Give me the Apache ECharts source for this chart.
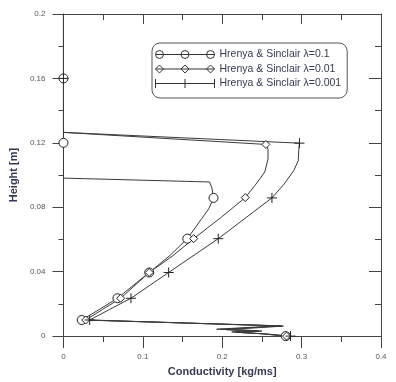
<!DOCTYPE html>
<html>
<head>
<meta charset="utf-8">
<script src="https://cdn.jsdelivr.net/npm/echarts@6/dist/echarts.min.js"></script>
<style>
  html, body { margin: 0; padding: 0; background: #fff; }
  #chart { width: 396px; height: 382px; }
</style>
</head>
<body>
<div id="chart"></div>
<script>
// --- tick values ---
const X_TICKS = [0, 0.1, 0.2, 0.3, 0.4];
const Y_TICKS = [0, 0.04, 0.08, 0.12, 0.16, 0.2];

// --- series names ---
const NAMES = [
  'Hrenya & Sinclair λ=0.1',
  'Hrenya & Sinclair λ=0.01',
  'Hrenya & Sinclair λ=0.001'
];

// --- curves [conductivity, height], bottom to top ---
const curveA = [
  [0.28, 0], [0.248, 0.0015], [0.212, 0.0026], [0.242, 0.0034], [0.193, 0.0043], [0.273, 0.0064],
  [0.023, 0.01], [0.045, 0.0165], [0.068, 0.0235], [0.108, 0.0395], [0.134, 0.05], [0.156, 0.0605],
  [0.174, 0.0728], [0.183, 0.079], [0.189, 0.0858], [0.187, 0.092], [0.184, 0.0957],
  [0, 0.0981], [0, 0.12], [0, 0.16], [0, 0.2]
];
const curveB = [
  [0.281, 0], [0.252, 0.0014], [0.216, 0.0024], [0.246, 0.0033], [0.198, 0.0042], [0.275, 0.0063],
  [0.028, 0.01], [0.049, 0.0165], [0.072, 0.0235], [0.108, 0.0395], [0.138, 0.05], [0.164, 0.0605],
  [0.198, 0.0735], [0.229, 0.086], [0.241, 0.0934], [0.2536, 0.1019], [0.2577, 0.11],
  [0.2577, 0.116], [0.255, 0.119], [0, 0.1265], [0, 0.2]
];
const curveC = [
  [0.286, 0], [0.256, 0.0013], [0.222, 0.0023], [0.25, 0.0031], [0.205, 0.004], [0.277, 0.0062],
  [0.033, 0.01], [0.058, 0.0165], [0.085, 0.0235], [0.1325, 0.0395], [0.195, 0.0605],
  [0.2626, 0.0858], [0.278, 0.0944], [0.29, 0.1027], [0.2957, 0.1088], [0.2965, 0.116],
  [0.2973, 0.1198], [0, 0.1265], [0, 0.16], [0, 0.2]
];

// --- marked points of each curve ---
const marksA = [[0.28, 0], [0.023, 0.01], [0.068, 0.0235], [0.108, 0.0395], [0.156, 0.0605], [0.189, 0.0858], [0, 0.12], [0, 0.16]];
const marksB = [[0.281, 0], [0.028, 0.01], [0.072, 0.0235], [0.108, 0.0395], [0.164, 0.0605], [0.229, 0.086], [0.255, 0.119]];
const marksC = [[0.286, 0], [0.033, 0.01], [0.085, 0.0235], [0.1325, 0.0395], [0.195, 0.0605], [0.2626, 0.0858], [0.2973, 0.1198], [0, 0.16]];

// --- colours ---
const INK = '#3a3a3a';
const AXIS = '#444';
const LABEL = '#555';
const TITLE = '#353a52';
const FONT = '"Liberation Sans", Arial, sans-serif';

// marker shapes
const PLUS = 'path://M0,5L10,5M5,0L5,10';
// legend icons: line with three markers
const ICON_CIRCLE = 'path://M1,9L105,9M1,9A7,7,0,1,1,15,9A7,7,0,1,1,1,9ZM46,9A7,7,0,1,1,60,9A7,7,0,1,1,46,9ZM91,9A7,7,0,1,1,105,9A7,7,0,1,1,91,9Z';
const ICON_DIAMOND = 'path://M1,9L105,9M1,9L8,2L15,9L8,16ZM46,9L53,2L60,9L53,16ZM91,9L98,2L105,9L98,16Z';
const ICON_PLUS = 'path://M1,9L105,9M1,1L1,17M53,1L53,17M105,1L105,17';

const chart = echarts.init(document.getElementById('chart'), null, { renderer: 'canvas' });

const xBase = {
  type: 'value',
  min: X_TICKS[0],
  max: X_TICKS[X_TICKS.length - 1],
  interval: X_TICKS[1] - X_TICKS[0],
  splitLine: { show: false },
  axisLine: { onZero: false, lineStyle: { color: AXIS, width: 1 } }
};
const yBase = {
  type: 'value',
  min: Y_TICKS[0],
  max: Y_TICKS[Y_TICKS.length - 1],
  interval: Y_TICKS[1] - Y_TICKS[0],
  splitLine: { show: false },
  axisLine: { onZero: false, lineStyle: { color: AXIS, width: 1 } }
};

const lineSeries = (name, data) => ({
  name: name,
  type: 'line',
  data: data,
  showSymbol: false,
  symbol: 'none',
  silent: true,
  lineStyle: { color: INK, width: 1 },
  itemStyle: { color: INK },
  z: 2
});

const markSeries = (name, data, symbol, size) => ({
  name: name,
  type: 'scatter',
  data: data,
  symbol: symbol,
  symbolSize: size,
  silent: true,
  itemStyle: { color: symbol === PLUS ? 'transparent' : '#fff', borderColor: '#222', borderWidth: 1, opacity: 1 },
  z: 3
});

const option = {
  animation: false,
  backgroundColor: '#fff',
  grid: { left: 55, right: 15, top: 14, bottom: 44, containLabel: false },
  legend: {
    left: 152,
    top: 43,
    orient: 'vertical',
    align: 'left',
    padding: [6, 6, 9, 3],
    itemGap: 3.5,
    itemWidth: 59,
    itemHeight: 10,
    itemTextGap: 5,
    borderColor: '#555',
    borderWidth: 1,
    borderRadius: 8,
    backgroundColor: '#fff',
    selectedMode: false,
    itemStyle: { color: '#fff', borderColor: '#333', borderWidth: 1 },
    textStyle: { color: TITLE, fontSize: 10.5, fontFamily: FONT },
    data: [
      { name: NAMES[0], icon: ICON_CIRCLE },
      { name: NAMES[1], icon: ICON_DIAMOND },
      { name: NAMES[2], icon: ICON_PLUS }
    ]
  },
  xAxis: [
    Object.assign({}, xBase, {
      position: 'bottom',
      name: 'Conductivity [kg/ms]',
      nameLocation: 'middle',
      nameGap: 27,
      nameTextStyle: { color: TITLE, fontSize: 11, fontWeight: 'bold', fontFamily: FONT },
      axisTick: { show: true, inside: false, length: 12, lineStyle: { color: AXIS } },
      minorTick: { show: true, splitNumber: 2, length: 6, lineStyle: { color: AXIS } },
      axisLabel: { color: LABEL, fontSize: 8, fontFamily: FONT, margin: 17 }
    }),
    Object.assign({}, xBase, {
      position: 'top',
      axisTick: { show: true, inside: true, length: 10, lineStyle: { color: AXIS } },
      minorTick: { show: true, splitNumber: 2, length: 6, lineStyle: { color: AXIS } },
      axisLabel: { show: false }
    })
  ],
  yAxis: [
    Object.assign({}, yBase, {
      position: 'left',
      name: 'Height [m]',
      nameLocation: 'middle',
      nameGap: 42,
      nameTextStyle: { color: TITLE, fontSize: 11, fontWeight: 'bold', fontFamily: FONT },
      axisTick: { show: true, inside: false, length: 11, lineStyle: { color: AXIS } },
      minorTick: { show: true, splitNumber: 2, length: 5, lineStyle: { color: AXIS } },
      axisLabel: { color: LABEL, fontSize: 8, fontFamily: FONT, margin: 18 }
    }),
    Object.assign({}, yBase, {
      position: 'right',
      axisTick: { show: true, inside: true, length: 12, lineStyle: { color: AXIS } },
      minorTick: { show: true, splitNumber: 2, length: 6, lineStyle: { color: AXIS } },
      axisLabel: { show: false }
    })
  ],
  series: [
    lineSeries(NAMES[0], curveA),
    lineSeries(NAMES[1], curveB),
    lineSeries(NAMES[2], curveC),
    markSeries(NAMES[0], marksA, 'circle', 9),
    markSeries(NAMES[1], marksB, 'diamond', 8),
    markSeries(NAMES[2], marksC, PLUS, 10)
  ]
};

chart.setOption(option);
</script>
</body>
</html>
